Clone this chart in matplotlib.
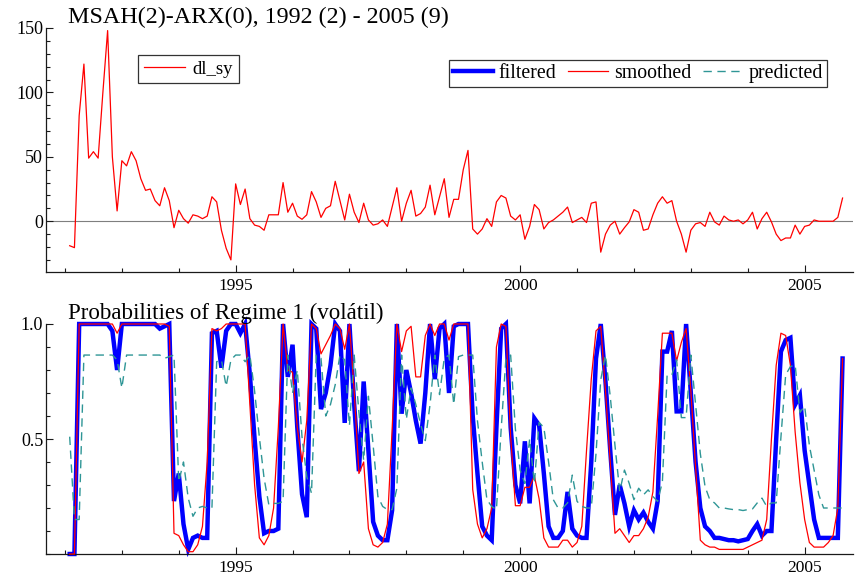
import numpy as np
import matplotlib.pyplot as plt
from matplotlib.ticker import FixedLocator, MultipleLocator

plt.rcParams['font.family'] = ['Liberation Serif', 'DejaVu Serif']

# ── Data: monthly, 1992 (2) - 2005 (9) ────────────────────────────────────────

start_year, start_month = 1992, 2

dl_sy = [
    -19, -20.5, 82, 122, 49, 54, 49, 100, 148, 50, 8, 47,
    43, 54, 47, 33, 24, 25, 16, 12, 26, 16, -5, 8.5,
    2, -1.5, 5, 4, 2, 4, 19, 15, -7, -21, -30, 29,
    13, 25, 2, -3, -4, -7, 5, 5, 5, 30, 7, 14,
    4, 1.5, 5, 23, 15, 3, 10, 12, 31, 16, 1, 21,
    7, -1, 14, 1, -3, -2, 1, -4, 11, 26, 0, 14,
    24, 4, 6, 11, 28, 5, 19, 33, 3, 17, 17, 40,
    55, -6, -10, -6, 2, -4, 15, 20, 18, 4, 1, 5,
    -14, -4, 13, 9, -6, -1, 1, 4, 7, 11, -1, 1,
    3, -1, 14, 15, -24, -10, -3, 0, -10, -5, -0.5, 9,
    7, -7, -6, 5, 14, 19, 14, 16, 0, -10, -24, -7,
    -2, -1, -4, 7, -0.5, -3, 4, 1, 0, 1, -2, 1,
    7, -6, 2, 7, -0.5, -10, -15, -13, -13, -3, -10, -4,
    -3, 1, 0, 0, 0, 0, 3, 18,
]

filtered = [
    0.0, 0.0, 1.0, 1.0, 1.0, 1.0, 1.0, 1.0, 1.0, 0.97, 0.80, 1.0,
    1.0, 1.0, 1.0, 1.0, 1.0, 1.0, 1.0, 0.98, 0.99, 1.0, 0.23, 0.35,
    0.13, 0.02, 0.07, 0.08, 0.07, 0.07, 0.96, 0.97, 0.81, 0.97, 1.0, 1.0,
    0.96, 1.0, 0.78, 0.50, 0.25, 0.09, 0.10, 0.10, 0.11, 1.0, 0.77, 0.91,
    0.55, 0.26, 0.16, 1.0, 0.98, 0.63, 0.70, 0.82, 1.0, 0.97, 0.57, 1.0,
    0.65, 0.36, 0.75, 0.45, 0.14, 0.08, 0.06, 0.06, 0.19, 1.0, 0.61, 0.80,
    0.70, 0.58, 0.48, 0.70, 1.0, 0.76, 0.98, 1.0, 0.70, 0.99, 1.0, 1.0,
    1.0, 0.60, 0.35, 0.12, 0.08, 0.06, 0.55, 0.98, 1.0, 0.55, 0.30, 0.22,
    0.49, 0.22, 0.59, 0.56, 0.35, 0.12, 0.07, 0.07, 0.10, 0.27, 0.11, 0.08,
    0.07, 0.07, 0.40, 0.85, 1.0, 0.75, 0.45, 0.17, 0.30, 0.22, 0.12, 0.19,
    0.15, 0.18, 0.14, 0.11, 0.23, 0.88, 0.88, 0.97, 0.62, 0.62, 1.0, 0.70,
    0.40, 0.20, 0.12, 0.10, 0.07, 0.07, 0.065, 0.06, 0.06, 0.055, 0.06, 0.065,
    0.10, 0.13, 0.08, 0.10, 0.10, 0.50, 0.88, 0.93, 0.94, 0.65, 0.69, 0.45,
    0.30, 0.15, 0.07, 0.07, 0.07, 0.07, 0.07, 0.85,
]

smoothed = [
    0.0, 0.0, 1.0, 1.0, 1.0, 1.0, 1.0, 1.0, 1.0, 1.0, 0.96, 1.0,
    1.0, 1.0, 1.0, 1.0, 1.0, 1.0, 1.0, 1.0, 1.0, 0.99, 0.09, 0.08,
    0.04, 0.01, 0.01, 0.04, 0.12, 0.40, 0.98, 0.97, 0.98, 1.0, 1.0, 1.0,
    1.0, 1.0, 0.65, 0.30, 0.07, 0.04, 0.08, 0.20, 0.55, 1.0, 0.80, 0.79,
    0.55, 0.40, 0.58, 1.0, 0.98, 0.87, 0.91, 0.95, 1.0, 0.98, 0.89, 1.0,
    0.71, 0.35, 0.40, 0.11, 0.04, 0.03, 0.05, 0.13, 0.54, 1.0, 0.88, 0.97,
    0.99, 0.77, 0.77, 0.95, 1.0, 0.95, 1.0, 1.0, 0.93, 1.0, 1.0, 1.0,
    1.0, 0.28, 0.13, 0.07, 0.11, 0.20, 0.90, 1.0, 0.99, 0.51, 0.21, 0.21,
    0.29, 0.29, 0.34, 0.24, 0.07, 0.03, 0.03, 0.03, 0.06, 0.06, 0.03, 0.05,
    0.12, 0.45, 0.76, 0.97, 0.99, 0.71, 0.40, 0.09, 0.11, 0.08, 0.05, 0.08,
    0.08, 0.11, 0.16, 0.27, 0.60, 0.96, 0.96, 0.96, 0.84, 0.92, 0.98, 0.71,
    0.38, 0.06, 0.04, 0.03, 0.03, 0.02, 0.02, 0.02, 0.02, 0.02, 0.02, 0.03,
    0.04, 0.05, 0.06, 0.15, 0.50, 0.82, 0.96, 0.95, 0.82, 0.53, 0.31, 0.15,
    0.05, 0.03, 0.03, 0.03, 0.05, 0.08, 0.20, 0.85,
]

predicted = [
    0.51, 0.15, 0.15, 0.865, 0.865, 0.865, 0.865, 0.865, 0.865, 0.865, 0.844, 0.722,
    0.865, 0.865, 0.865, 0.865, 0.865, 0.865, 0.865, 0.865, 0.851, 0.858, 0.865, 0.314,
    0.40, 0.243, 0.164, 0.20, 0.207, 0.20, 0.20, 0.836, 0.844, 0.729, 0.844, 0.865,
    0.865, 0.836, 0.865, 0.708, 0.508, 0.329, 0.214, 0.22, 0.22, 0.229, 0.865, 0.70,
    0.80, 0.508, 0.336, 0.264, 0.865, 0.851, 0.60, 0.65, 0.736, 0.865, 0.844, 0.558,
    0.865, 0.615, 0.407, 0.686, 0.472, 0.25, 0.207, 0.193, 0.193, 0.286, 0.865, 0.586,
    0.722, 0.65, 0.565, 0.493, 0.65, 0.865, 0.693, 0.851, 0.865, 0.65, 0.858, 0.865,
    0.865, 0.865, 0.579, 0.40, 0.236, 0.207, 0.193, 0.543, 0.851, 0.865, 0.543, 0.365,
    0.307, 0.50, 0.307, 0.572, 0.55, 0.40, 0.236, 0.20, 0.20, 0.222, 0.343, 0.229,
    0.207, 0.20, 0.20, 0.436, 0.758, 0.865, 0.686, 0.472, 0.272, 0.365, 0.307, 0.236,
    0.286, 0.257, 0.279, 0.25, 0.229, 0.314, 0.779, 0.779, 0.844, 0.593, 0.593, 0.865,
    0.65, 0.436, 0.293, 0.236, 0.222, 0.20, 0.20, 0.196, 0.193, 0.193, 0.189, 0.193,
    0.196, 0.222, 0.243, 0.207, 0.222, 0.222, 0.508, 0.779, 0.815, 0.822, 0.615, 0.643,
    0.472, 0.365, 0.257, 0.20, 0.20, 0.20, 0.20, 0.20,
]

year_ticks = [1995, 2000, 2005]
year_labels = ['1995', '2000', '2005']
title_top = 'MSAH(2)-ARX(0), 1992 (2) - 2005 (9)'
title_bottom = 'Probabilities of Regime 1 (volátil)'

# time axis in decimal years
t = start_year + (start_month - 1 + np.arange(len(dl_sy))) / 12.0

# ── Figure layout in pixels ───────────────────────────────────────────────────

W, H = 855, 583
fig = plt.figure(figsize=(W / 100, H / 100), dpi=100)


def px_axes(left, top, right, bottom):
    return fig.add_axes([left / W, 1 - bottom / H, (right - left) / W, (bottom - top) / H])


ax1 = px_axes(46, 28, 853, 272)
ax2 = px_axes(46, 324, 853, 554)

RED = '#ff0000'
BLUE = '#0000ff'
TEAL = '#2f9696'

for ax in (ax1, ax2):
    ax.set_xlim(1991.667, 2005.85)
    ax.spines['top'].set_visible(False)
    ax.spines['right'].set_visible(False)
    for s in ('left', 'bottom'):
        ax.spines[s].set_linewidth(0.9)
        ax.spines[s].set_color('#1a1a1a')
    ax.xaxis.set_major_locator(FixedLocator(year_ticks))
    ax.xaxis.set_minor_locator(FixedLocator([y for y in range(1992, 2006) if y not in year_ticks]))
    ax.set_xticklabels(year_labels)
    ax.tick_params(which='both', direction='in', width=0.8, color='#1a1a1a')
    ax.tick_params(which='major', length=5)
    ax.tick_params(which='minor', length=3)
    ax.tick_params(axis='x', labelsize=12.5, pad=4)
    ax.tick_params(axis='y', labelsize=13, pad=2)

# ── Top panel: dl_sy ──────────────────────────────────────────────────────────

ax1.axhline(0, color='#7f7f7f', lw=0.8, zorder=1)
l_sy, = ax1.plot(t, dl_sy, color=RED, lw=0.9, zorder=2)
ax1.set_ylim(-39.4, 150)
ax1.yaxis.set_major_locator(FixedLocator([0, 50, 100, 150]))
ax1.yaxis.set_minor_locator(MultipleLocator(10))

fig.text(68 / W, 1 - 23 / H, title_top, fontsize=17.4, va='baseline', ha='left')

leg1 = fig.legend([l_sy], ['dl_sy'], loc='upper left',
                  bbox_to_anchor=(138 / W, 1 - 55 / H), bbox_transform=fig.transFigure,
                  borderaxespad=0, fontsize=13.5, fancybox=False, framealpha=1,
                  edgecolor='#333333', handlelength=2.2, handletextpad=0.4, borderpad=0.3)
leg1.get_frame().set_linewidth(0.9)

# ── Bottom panel: regime probabilities ────────────────────────────────────────

l_f, = ax2.plot(t, filtered, color=BLUE, lw=3.2, solid_joinstyle='miter', clip_on=False, zorder=2)
l_s, = ax2.plot(t, smoothed, color=RED, lw=0.9, clip_on=False, zorder=3)
l_p, = ax2.plot(t, predicted, color=TEAL, lw=1.0, dashes=(6, 4), clip_on=False, zorder=4)
ax2.set_ylim(0, 1.0)
ax2.yaxis.set_major_locator(FixedLocator([0.5, 1.0]))
ax2.yaxis.set_minor_locator(MultipleLocator(0.1))
ax2.set_yticklabels(['0.5', '1.0'])

fig.text(68 / W, 1 - 319 / H, title_bottom, fontsize=16.6, va='baseline', ha='left')

leg2 = fig.legend([l_f, l_s, l_p], ['filtered', 'smoothed', 'predicted'], loc='upper left',
                  bbox_to_anchor=(449 / W, 1 - 60 / H), bbox_transform=fig.transFigure,
                  borderaxespad=0, fontsize=14.3, ncol=3, fancybox=False, framealpha=1,
                  edgecolor='#333333', handlelength=2.0, handletextpad=0.3,
                  columnspacing=0.6, borderpad=0.2)
leg2.get_frame().set_linewidth(0.9)

fig.savefig('out.png', dpi=100)
